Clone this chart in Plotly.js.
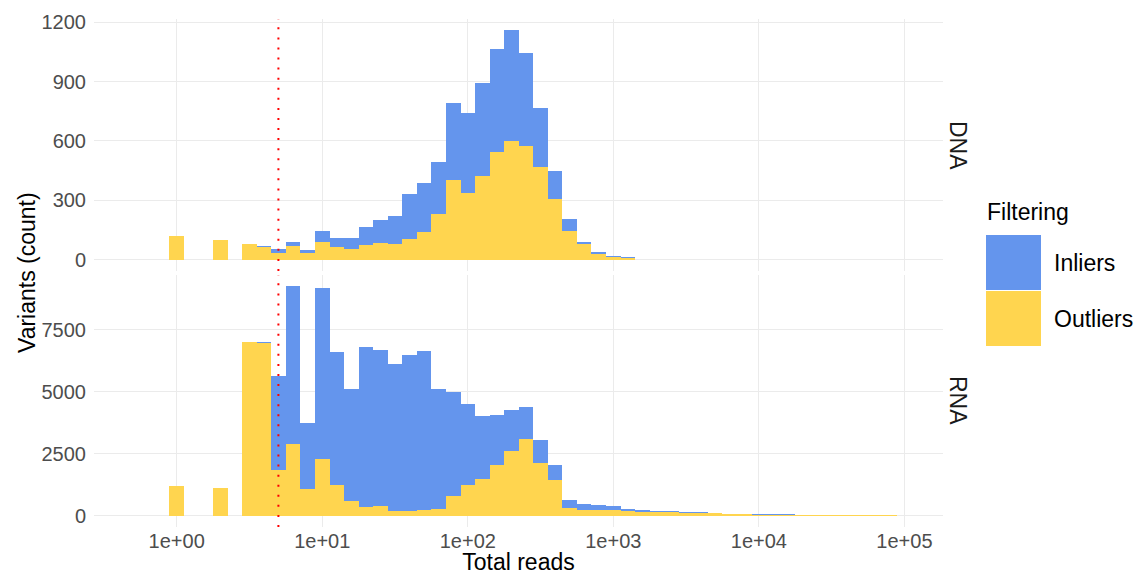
<!DOCTYPE html>
<html>
<head>
<meta charset="utf-8">
<script src="https://cdn.plot.ly/plotly-3.0.1.min.js"></script>
<style>html,body{margin:0;padding:0;background:#fff;}#chart{width:1137px;height:575px;}</style>
</head>
<body>
<div id="chart"></div>
<script>
// log10(total reads) bin centres (bin width 0.1 decade)
const logReadBins = [-0.2,-0.1,0.0,0.1,0.2,0.3,0.4,0.5,0.6,0.7,0.8,0.9,1.0,1.1,1.2,1.3,1.4,1.5,1.6,1.7,1.8,1.9,2.0,2.1,2.2,2.3,2.4,2.5,2.6,2.7,2.8,2.9,3.0,3.1,3.2,3.3,3.4,3.5,3.6,3.7,3.8,3.9,4.0,4.1,4.2,4.3,4.4,4.5,4.6,4.7,4.8,4.9];

// DNA facet counts
const dnaOutliers = [0,0,118,0,0,98,0,77,62,32,67,32,88,62,52,72,82,77,103,138,229,401,335,421,542,598,573,466,305,143,79,27,12,7,0,0,0,0,0,0,0,0,0,0,0,0,0,0,0,0,0,0];
const dnaInliers  = [0,0,0,0,0,0,0,0,5,20,21,15,55,46,56,91,117,142,227,248,263,389,404,470,521,561,474,299,141,60,8,10,5,5,0,0,0,0,0,0,0,0,0,0,0,0,0,0,0,0,0,0];

// RNA facet counts
const rnaOutliers = [0,0,1200,0,0,1120,0,7028,6988,1848,2900,1079,2293,1241,594,351,391,200,200,209,250,803,1248,1491,2057,2624,3109,2138,1450,317,236,236,229,190,150,150,150,110,110,108,67,67,27,27,27,20,20,20,20,20,20,20];
const rnaInliers  = [0,0,0,0,0,0,0,0,40,3804,6354,2671,6880,5383,4532,6475,6314,5938,6302,6421,4843,4168,3278,2549,2024,1659,1295,931,607,324,243,199,166,85,82,42,42,42,40,2,0,0,40,40,40,0,0,0,0,0,0,0];

const xTickVals = [0,1,2,3,4,5];
const xTickText = ['1e+00','1e+01','1e+02','1e+03','1e+04','1e+05'];
const dnaTicks = [0,300,600,900,1200];
const rnaTicks = [0,2500,5000,7500];
const cutoffReads = 5;

const facets = ['DNA','RNA'];
const groups = ['Inliers','Outliers'];

const BLUE = '#6495ED';
const YELLOW = '#FFD54F';

function maxStack(a,b){let m=0;for(let i=0;i<a.length;i++){m=Math.max(m,a[i]+b[i]);}return m;}
const dnaMax = maxStack(dnaOutliers,dnaInliers);
const rnaMax = maxStack(rnaOutliers,rnaInliers);

const traces = [
  {type:'bar', name:groups[1], x:logReadBins, y:dnaOutliers, xaxis:'x', yaxis:'y2', width:0.1, marker:{color:YELLOW, line:{width:0}}, hoverinfo:'x+y+name'},
  {type:'bar', name:groups[0], x:logReadBins, y:dnaInliers, xaxis:'x', yaxis:'y2', width:0.1, marker:{color:BLUE, line:{width:0}}, hoverinfo:'x+y+name'},
  {type:'bar', name:groups[1], x:logReadBins, y:rnaOutliers, xaxis:'x', yaxis:'y', width:0.1, marker:{color:YELLOW, line:{width:0}}, hoverinfo:'x+y+name'},
  {type:'bar', name:groups[0], x:logReadBins, y:rnaInliers, xaxis:'x', yaxis:'y', width:0.1, marker:{color:BLUE, line:{width:0}}, hoverinfo:'x+y+name'}
];

const W=1137, H=575, L=94, R=194, T=19, B=48;
const pw = W-L-R, ph = H-T-B;
function px2x(px){return (px-L)/pw;}
function py2y(py){return (H-B-py)/ph;}

const FONT = 'Liberation Sans, Arial, Helvetica, sans-serif';
const gridStyle = {showgrid:true, gridcolor:'#EBEBEB', gridwidth:1, zeroline:false, showline:false};

const layout = {
  width:W, height:H,
  margin:{l:L, r:R, t:T, b:B, pad:0},
  paper_bgcolor:'#ffffff', plot_bgcolor:'#ffffff',
  barmode:'stack', bargap:0,
  showlegend:false,
  font:{family:FONT, color:'#000000'},
  xaxis:Object.assign({}, gridStyle, {
    anchor:'y', domain:[0,1], range:[-0.568,5.265],
    ticks:'',
    tickmode:'array', tickvals:xTickVals, ticktext:xTickText,
    tickfont:{family:FONT, size:20, color:'#4D4D4D'},
    title:{text:'Total reads', font:{family:FONT, size:23, color:'#000'}, standoff:8}
  }),
  yaxis:Object.assign({}, gridStyle, {
    anchor:'x', domain:[0, py2y(275)], range:[-0.05*rnaMax, 1.05*rnaMax],
    ticks:'outside', ticklen:3, tickcolor:'rgba(0,0,0,0)',
    tickmode:'array', tickvals:rnaTicks, ticktext:rnaTicks.map(String),
    tickfont:{family:FONT, size:20, color:'#4D4D4D'}
  }),
  yaxis2:Object.assign({}, gridStyle, {
    anchor:'x', domain:[py2y(271), 1], range:[-0.05*dnaMax, 1.05*dnaMax],
    ticks:'outside', ticklen:3, tickcolor:'rgba(0,0,0,0)',
    tickmode:'array', tickvals:dnaTicks, ticktext:dnaTicks.map(String),
    tickfont:{family:FONT, size:20, color:'#4D4D4D'}
  }),
  shapes:[
    {type:'line', xref:'x', yref:'y2 domain', x0:Math.log10(cutoffReads), x1:Math.log10(cutoffReads), y0:0, y1:1, line:{color:'#FF0000', width:2, dash:'2px,8.07px'}},
    {type:'line', xref:'x', yref:'y domain', x0:Math.log10(cutoffReads), x1:Math.log10(cutoffReads), y0:0, y1:1, line:{color:'#FF0000', width:2, dash:'2px,8.07px'}},
    // legend keys
    {type:'rect', xref:'paper', yref:'paper', x0:px2x(986), x1:px2x(1041), y0:py2y(290), y1:py2y(235), fillcolor:BLUE, line:{width:0}},
    {type:'rect', xref:'paper', yref:'paper', x0:px2x(986), x1:px2x(1041), y0:py2y(346), y1:py2y(291), fillcolor:YELLOW, line:{width:0}}
  ],
  annotations:[
    {text:'Variants (count)', xref:'paper', yref:'paper', x:px2x(27), y:py2y(273), textangle:-90, showarrow:false, xanchor:'center', yanchor:'middle', font:{family:FONT, size:23, color:'#000'}},
    {text:facets[0], xref:'paper', yref:'paper', x:px2x(958), y:py2y(146), textangle:90, showarrow:false, xanchor:'center', yanchor:'middle', font:{family:FONT, size:23, color:'#1A1A1A'}},
    {text:facets[1], xref:'paper', yref:'paper', x:px2x(958), y:py2y(401), textangle:90, showarrow:false, xanchor:'center', yanchor:'middle', font:{family:FONT, size:23, color:'#1A1A1A'}},
    {text:'Filtering', xref:'paper', yref:'paper', x:px2x(985), y:py2y(212), showarrow:false, xanchor:'left', yanchor:'middle', font:{family:FONT, size:23, color:'#000'}},
    {text:groups[0], xref:'paper', yref:'paper', x:px2x(1052), y:py2y(263), showarrow:false, xanchor:'left', yanchor:'middle', font:{family:FONT, size:23, color:'#000'}},
    {text:groups[1], xref:'paper', yref:'paper', x:px2x(1052), y:py2y(319), showarrow:false, xanchor:'left', yanchor:'middle', font:{family:FONT, size:23, color:'#000'}}
  ]
};

Plotly.newPlot('chart', traces, layout, {displayModeBar:false, staticPlot:true});
</script>
</body>
</html>
